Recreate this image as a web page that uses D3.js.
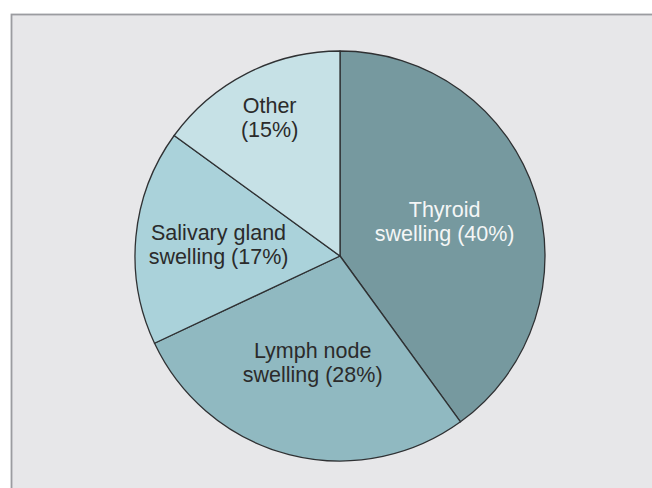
<!DOCTYPE html>
<html>
<head>
<meta charset="utf-8">
<script src="https://cdn.jsdelivr.net/npm/d3@7"></script>
<style>
  html, body { margin: 0; padding: 0; background: #ffffff; }
  svg { display: block; }
</style>
</head>
<body>
<svg id="chart"></svg>
<script>
// Pie chart of neck swelling causes

const categories = ['Thyroid swelling', 'Lymph node swelling', 'Salivary gland swelling', 'Other'];
const percents = [40, 28, 17, 15];
const labelLines = [
    ['Thyroid', 'swelling (40%)'],
    ['Lymph node', 'swelling (28%)'],
    ['Salivary gland', 'swelling (17%)'],
    ['Other', '(15%)']
];

const width = 652;
const height = 488;
const cx = 340;
const cy = 256;
const radius = 205;

const fills = ['#76999f', '#90b9c1', '#aad2da', '#c6e1e6'];
const textColors = ['#f4f6f6', '#2b2b2b', '#2b2b2b', '#2b2b2b'];
// how far out from the centre each label sits
const labelRadius = [110, 110, 122, 155];

const svg = d3.select('#chart')
    .attr('width', width)
    .attr('height', height);

// Panel frame (only top and left edges visible in the crop)
svg.append('rect')
    .attr('x', 11.5)
    .attr('y', 14.5)
    .attr('width', 700)
    .attr('height', 600)
    .attr('fill', '#e7e7e9')
    .attr('stroke', '#9b9ca0')
    .attr('stroke-width', 1.8);

const data = categories.map((c, i) => ({ name: c, value: percents[i], lines: labelLines[i], idx: i }));

const pie = d3.pie()
    .sort(null)
    .value(d => d.value);

const arcs = pie(data);

const arc = d3.arc()
    .innerRadius(0)
    .outerRadius(radius);

const g = svg.append('g')
    .attr('transform', `translate(${cx}, ${cy})`);

g.selectAll('.slice')
    .data(arcs)
    .enter()
    .append('path')
    .attr('class', 'slice')
    .attr('d', arc)
    .attr('fill', d => fills[d.data.idx])
    .attr('stroke', '#2f3133')
    .attr('stroke-width', 1.3)
    .attr('stroke-linejoin', 'round');

// Labels
const lineGap = 24;
arcs.forEach(d => {
    const i = d.data.idx;
    const mid = (d.startAngle + d.endAngle) / 2;
    const r = labelRadius[i];
    const x = Math.sin(mid) * r;
    const y = -Math.cos(mid) * r;

    const text = g.append('text')
        .attr('text-anchor', 'middle')
        .attr('font-family', '"Liberation Sans", Arial, Helvetica, sans-serif')
        .attr('font-size', '21.5px')
        .attr('fill', textColors[i]);

    d.data.lines.forEach((line, k) => {
        text.append('tspan')
            .attr('x', x)
            .attr('y', y + 7 - lineGap / 2 + k * lineGap)
            .text(line);
    });
});
</script>
</body>
</html>
